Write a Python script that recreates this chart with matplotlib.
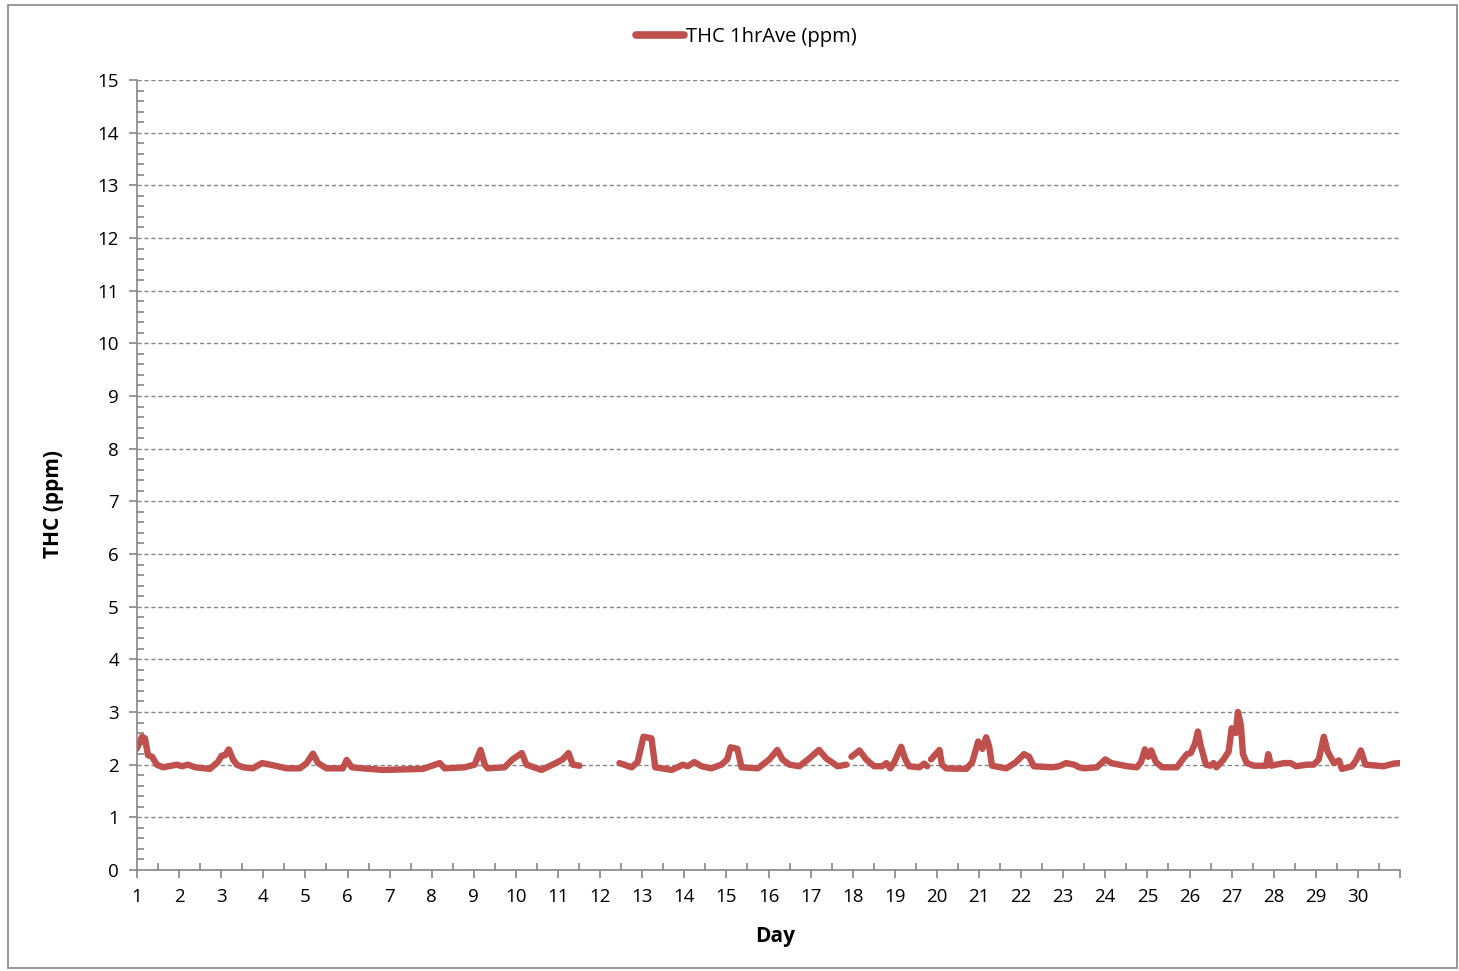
import numpy as np
import matplotlib
matplotlib.use("Agg")
from matplotlib import pyplot as plt
from matplotlib.patches import Rectangle
from matplotlib.ticker import MultipleLocator, FixedLocator

plt.rcParams['font.family'] = ['Open Sans', 'DejaVu Sans']

# hourly THC readings, traced as (day, ppm); nan marks missing data
day = [1.00, 1.12, 1.19, 1.26, 1.36, 1.47, 1.62, 1.95, 2.07, 2.21, 2.38, 2.73, 2.92,
       3.01, 3.09, 3.18, 3.28, 3.37, 3.52, 3.75, 3.97, 4.16, 4.56, 4.87, 5.03, 5.18,
       5.30, 5.50, 5.89, 5.98, 6.10, 6.36, 6.84, 7.79, 8.19, 8.31, 8.78, 9.02, 9.16,
       9.26, 9.33, 9.73, 9.92, 10.14, 10.25, 10.61, 10.92, 11.11, 11.25, 11.35, 11.51,
       12.00,
       12.46, 12.75, 12.89, 13.03, 13.22, 13.31, 13.70, 13.84, 13.96, 14.08, 14.24,
       14.41, 14.64, 14.88, 15.02, 15.10, 15.26, 15.36, 15.74, 15.78, 16.02, 16.21,
       16.33, 16.50, 16.73, 16.97, 17.20, 17.37, 17.64, 17.85,
       17.91,
       17.97, 18.16, 18.32, 18.51, 18.70, 18.80, 18.89, 18.99, 19.15, 19.25, 19.34,
       19.58, 19.70, 19.77,
       19.82,
       19.86, 20.06, 20.12, 20.22, 20.70, 20.84, 20.98, 21.08, 21.17, 21.24, 21.31,
       21.65, 21.88, 22.07, 22.19, 22.30, 22.74, 22.90, 23.07, 23.26, 23.38, 23.50,
       23.80, 24.00, 24.14, 24.52, 24.75, 24.85, 24.94, 25.02, 25.09, 25.20, 25.35,
       25.70, 25.82, 25.94, 26.03, 26.13, 26.20, 26.27, 26.39, 26.50, 26.57, 26.64,
       26.81, 26.93, 27.00, 27.10, 27.15, 27.22, 27.27, 27.36, 27.53, 27.82, 27.87,
       27.94, 28.24, 28.40, 28.53, 28.79, 28.95, 29.07, 29.19, 29.28, 29.43, 29.55,
       29.62, 29.86, 29.97, 30.07, 30.18, 30.61, 30.85, 31.00]
thc = [2.31, 2.53, 2.50, 2.18, 2.15, 2.00, 1.95, 2.00, 1.97, 2.00, 1.95, 1.92, 2.05,
       2.17, 2.18, 2.29, 2.10, 2.00, 1.95, 1.93, 2.03, 2.00, 1.93, 1.93, 2.03, 2.21,
       2.03, 1.93, 1.93, 2.09, 1.95, 1.93, 1.90, 1.92, 2.03, 1.93, 1.95, 2.00, 2.28,
       2.00, 1.93, 1.95, 2.10, 2.22, 2.00, 1.90, 2.02, 2.10, 2.22, 2.00, 1.98,
       np.nan,
       2.03, 1.95, 2.05, 2.53, 2.50, 1.95, 1.90, 1.95, 2.00, 1.97, 2.05,
       1.97, 1.93, 2.00, 2.10, 2.33, 2.30, 1.95, 1.93, 1.95, 2.10, 2.28,
       2.10, 2.00, 1.97, 2.12, 2.28, 2.12, 1.97, 2.00,
       np.nan,
       2.15, 2.27, 2.10, 1.97, 1.97, 2.03, 1.93, 2.05, 2.34, 2.10, 1.97,
       1.95, 2.02, 1.97,
       np.nan,
       2.10, 2.28, 2.00, 1.93, 1.92, 2.05, 2.44, 2.30, 2.52, 2.35, 1.98,
       1.93, 2.05, 2.20, 2.15, 1.97, 1.95, 1.97, 2.03, 2.00, 1.95, 1.93,
       1.95, 2.10, 2.03, 1.97, 1.95, 2.05, 2.29, 2.15, 2.27, 2.05, 1.95,
       1.95, 2.08, 2.20, 2.22, 2.40, 2.63, 2.35, 2.00, 1.98, 2.03, 1.95,
       2.10, 2.25, 2.69, 2.60, 3.00, 2.75, 2.20, 2.03, 1.98, 1.98, 2.20,
       1.98, 2.03, 2.03, 1.97, 2.00, 2.00, 2.10, 2.53, 2.25, 2.03, 2.08,
       1.92, 1.97, 2.10, 2.27, 2.00, 1.97, 2.02, 2.03]

day_ticks = list(range(1, 32))
day_labels = [str(d) for d in range(1, 31)] + ['']

red = '#C0504D'
gray = '#868686'

fig = plt.figure(figsize=(14.59, 9.71), dpi=100)
fig.patches.append(Rectangle((8 / 1459, 3 / 971), 1449 / 1459, 963 / 971,
                             transform=fig.transFigure, fill=False,
                             edgecolor=gray, linewidth=1.2))
ax = fig.add_axes([137 / 1459, 1 - 870 / 971, 1263 / 1459, 790 / 971])

ax.plot(day, thc, color=red, linewidth=4.6, solid_capstyle='round',
        solid_joinstyle='round', label='THC 1hrAve (ppm)')

ax.set_xlim(1, 31)
ax.set_ylim(0, 15)
ax.xaxis.set_major_locator(FixedLocator(day_ticks))
ax.set_xticklabels(day_labels)
ax.xaxis.set_minor_locator(MultipleLocator(0.5))
ax.yaxis.set_major_locator(MultipleLocator(1))
ax.yaxis.set_minor_locator(MultipleLocator(0.2))

ax.grid(axis='y', which='major', color=gray, linestyle=(0, (3, 2)), linewidth=1)
ax.set_axisbelow(True)
for s in ['top', 'right']:
    ax.spines[s].set_visible(False)
for s in ['left', 'bottom']:
    ax.spines[s].set_color(gray)
    ax.spines[s].set_linewidth(1.2)

ax.tick_params(which='major', direction='out', length=6, width=1.2, color=gray,
               labelsize=13.5, pad=7)
ax.tick_params(which='minor', direction='in', length=5, width=1.2, color=gray)

ax.set_xlabel('Day', fontsize=15, fontweight='bold')
ax.xaxis.set_label_coords(0.505, -0.071)
ax.set_ylabel('THC (ppm)', fontsize=15, fontweight='bold')
ax.yaxis.set_label_coords(-0.0575, 0.463)

leg = ax.legend(loc='center', bbox_to_anchor=(0.4826, (870 - 37) / 790), frameon=False,
                fontsize=14.5, handlelength=2.4, handletextpad=0.1)
leg.get_lines()[0].set_linewidth(5.5)

fig.savefig('out.png', dpi=100)
